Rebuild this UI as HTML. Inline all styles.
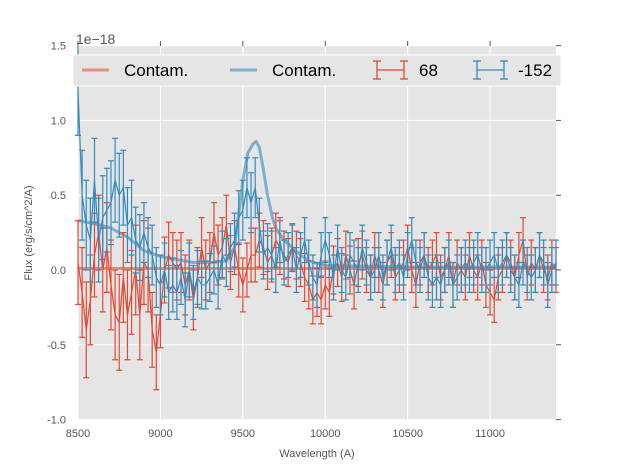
<!DOCTYPE html>
<html><head><meta charset="utf-8"><style>
body{margin:0;background:#fff;font-family:"Liberation Sans",sans-serif}
svg text{font-family:"Liberation Sans",sans-serif}
</style></head><body>
<svg id="chart" width="617" height="467" xmlns="http://www.w3.org/2000/svg">
<rect x="78" y="46" width="478" height="374" fill="#e5e5e5"/>
<g id="grid"></g>
<g id="contam"></g>
<g id="series"></g>
<g id="axes"></g>
<text x="76" y="44" font-size="14" fill="#555">1e−18</text>
<text x="317" y="457" font-size="11" fill="#555" text-anchor="middle">Wavelength (A)</text>
<text transform="translate(32,233) rotate(-90)" font-size="11" fill="#555" text-anchor="middle">Flux (erg/s/cm^2/A)</text>
<g>
<rect x="73" y="55" width="488" height="31" fill="#e5e5e5" stroke="#fff" stroke-width="1"/>
<line x1="82" y1="70" x2="109" y2="70" stroke="#e8907f" stroke-width="3"/>
<text x="124" y="76" font-size="17" fill="#000">Contam.</text>
<line x1="230" y1="70" x2="257" y2="70" stroke="#7aafd2" stroke-width="3"/>
<text x="272" y="76" font-size="17" fill="#000">Contam.</text>
<g stroke="#e24a33" stroke-width="1.3"><line x1="377" y1="70" x2="404" y2="70"/><line x1="377" y1="61" x2="377" y2="79"/><line x1="404" y1="61" x2="404" y2="79"/><line x1="373" y1="61" x2="381" y2="61"/><line x1="373" y1="79" x2="381" y2="79"/><line x1="400" y1="61" x2="408" y2="61"/><line x1="400" y1="79" x2="408" y2="79"/></g>
<text x="419" y="76" font-size="17" fill="#000">68</text>
<g stroke="#348abd" stroke-width="1.3"><line x1="477" y1="70" x2="504" y2="70"/><line x1="477" y1="61" x2="477" y2="79"/><line x1="504" y1="61" x2="504" y2="79"/><line x1="473" y1="61" x2="481" y2="61"/><line x1="473" y1="79" x2="481" y2="79"/><line x1="500" y1="61" x2="508" y2="61"/><line x1="500" y1="79" x2="508" y2="79"/></g>
<text x="518" y="76" font-size="17" fill="#000">-152</text>
</g>
</svg>
<script>
const xTicks=[8500,9000,9500,10000,10500,11000];
const yTicks=[-1.0,-0.5,0.0,0.5,1.0,1.5];
const wlStart=8500, wlStep=25;
const redFlux=[0.05,-0.15,-0.4,-0.2,0.1,0.25,0.0,0.15,-0.1,-0.3,-0.35,-0.05,-0.3,-0.15,0.0,-0.3,0.05,0.0,-0.4,-0.55,-0.3,0.0,0.1,0.05,0.0,0.05,-0.1,0.0,-0.2,-0.05,0.15,0.0,0.05,0.25,0.1,0.15,0.3,0.05,0.15,0.0,-0.1,0.0,0.1,0.1,0.2,0.15,0.05,0.1,0.2,0.15,0.1,0.05,0.15,0.1,0.05,-0.05,-0.1,-0.2,-0.15,-0.2,-0.1,-0.15,0.0,0.05,-0.05,0.1,0.0,-0.1,0.05,0.1,0.0,-0.05,0.1,0.0,-0.1,0.05,0.1,-0.05,0.0,0.05,0.15,0.0,-0.1,0.05,0.1,0.0,0.05,0.1,-0.05,0.0,0.1,-0.1,0.05,0.0,-0.05,0.1,0.0,-0.05,0.05,-0.1,-0.15,-0.2,-0.05,0.0,0.1,0.05,-0.05,0.1,0.2,-0.05,0.05,0.0,0.1,0.0,-0.05,0.05,0.0];
const redErr=[0.28,0.3,0.32,0.3,0.28,0.25,0.28,0.3,0.3,0.3,0.32,0.3,0.3,0.28,0.3,0.3,0.28,0.28,0.25,0.25,0.22,0.22,0.22,0.2,0.2,0.2,0.2,0.2,0.2,0.2,0.2,0.2,0.2,0.2,0.2,0.2,0.2,0.18,0.18,0.18,0.18,0.18,0.18,0.18,0.18,0.18,0.18,0.18,0.18,0.18,0.16,0.16,0.16,0.16,0.16,0.16,0.16,0.16,0.16,0.16,0.16,0.16,0.16,0.16,0.16,0.16,0.16,0.16,0.16,0.16,0.15,0.15,0.15,0.15,0.15,0.15,0.15,0.15,0.15,0.15,0.15,0.15,0.15,0.15,0.15,0.15,0.15,0.15,0.15,0.15,0.15,0.15,0.15,0.15,0.15,0.15,0.15,0.15,0.15,0.15,0.15,0.15,0.15,0.15,0.15,0.15,0.15,0.15,0.15,0.15,0.15,0.15,0.15,0.15,0.15,0.15,0.15];
const blueFlux=[1.2,0.5,0.3,0.2,0.6,0.2,0.35,0.4,0.45,0.6,0.5,0.55,0.3,0.35,0.2,0.15,0.25,0.15,0.1,-0.05,-0.1,0.0,-0.15,-0.1,-0.15,-0.05,-0.2,0.0,-0.15,-0.05,-0.1,-0.1,-0.05,0.0,-0.1,0.1,0.05,0.15,0.2,0.35,0.4,0.55,0.45,0.55,0.3,0.1,0.15,0.1,0.0,0.2,0.05,0.1,0.15,0.0,0.1,0.2,0.05,-0.05,-0.1,0.1,0.2,0.1,-0.05,0.15,0.0,-0.05,0.1,0.05,0.0,0.15,0.05,-0.05,0.0,0.1,-0.05,0.05,0.15,0.0,0.05,-0.05,0.1,0.2,0.05,0.0,0.1,-0.05,-0.1,-0.05,-0.1,0.0,0.05,-0.1,-0.05,0.0,0.05,0.0,0.05,0.1,0.0,0.0,0.05,0.1,0.0,0.05,0.1,0.0,-0.05,-0.1,0.05,0.0,-0.05,0.0,0.1,0.05,-0.1,0.0,0.05];
const blueErr=[0.3,0.3,0.3,0.28,0.28,0.28,0.28,0.28,0.28,0.28,0.28,0.25,0.25,0.25,0.22,0.22,0.2,0.2,0.2,0.2,0.2,0.18,0.18,0.18,0.18,0.18,0.18,0.18,0.18,0.18,0.16,0.16,0.16,0.16,0.16,0.16,0.16,0.16,0.18,0.18,0.2,0.2,0.2,0.2,0.18,0.16,0.16,0.16,0.15,0.15,0.15,0.15,0.15,0.15,0.15,0.15,0.15,0.15,0.15,0.15,0.15,0.15,0.15,0.15,0.15,0.15,0.15,0.15,0.15,0.15,0.15,0.15,0.15,0.15,0.15,0.15,0.15,0.15,0.15,0.15,0.15,0.15,0.15,0.15,0.15,0.15,0.15,0.15,0.15,0.15,0.15,0.15,0.15,0.15,0.15,0.15,0.15,0.15,0.15,0.15,0.15,0.15,0.15,0.15,0.15,0.15,0.15,0.15,0.15,0.15,0.15,0.15,0.15,0.15,0.15,0.15,0.15];
const contamWl=[8500,8600,8700,8800,8900,9000,9100,9200,9300,9400,9450,9500,9530,9560,9580,9600,9620,9650,9680,9700,9750,9800,9850,9900,10000,10500,11000,11400];
const contamBlue=[0.33,0.31,0.28,0.22,0.13,0.09,0.07,0.05,0.05,0.06,0.15,0.6,0.78,0.84,0.86,0.82,0.7,0.5,0.35,0.28,0.2,0.15,0.1,0.06,0.03,0.02,0.02,0.02];
const contamRed=[0.01,0.01,0.01,0.01];
const contamRedWl=[8500,9500,10500,11400];

const NS='http://www.w3.org/2000/svg';
const X=v=>78+(v-8500)*(478/2900);
const Y=v=>270-v*149.6;
function mk(tag,attrs,parent){const e=document.createElementNS(NS,tag);for(const k in attrs)e.setAttribute(k,attrs[k]);parent.appendChild(e);return e;}
const grid=document.getElementById('grid'),axes=document.getElementById('axes');
xTicks.forEach(t=>{
  const l=mk('line',{x1:X(t),x2:X(t),y1:46,y2:420,stroke:'#fff','stroke-width':1},grid);
  
  
  const tx=mk('text',{x:X(t),y:437,'font-size':11,fill:'#555','text-anchor':'middle'},axes);
  tx.textContent=t;
  
  
  mk('line',{x1:X(t),x2:X(t),y1:41,y2:46,stroke:'#555'},axes);
});
yTicks.forEach(t=>{
  const l=mk('line',{x1:78,x2:556,y1:Y(t),y2:Y(t),stroke:'#fff','stroke-width':1},grid);
  
  
  const tx=mk('text',{x:66,y:Y(t)+4,'font-size':11,fill:'#555','text-anchor':'end'},axes);
  tx.textContent=t.toFixed(1);
  
  
  mk('line',{x1:556,x2:561,y1:Y(t),y2:Y(t),stroke:'#555'},axes);
});
const contam=document.getElementById('contam');
const pr=mk('polyline',{points:contamRedWl.map((w,i)=>X(w)+','+Y(contamRed[i])).join(' '),fill:'none',stroke:'#e24a33','stroke-opacity':0.6,'stroke-width':3},contam);


const pb=mk('polyline',{points:contamWl.map((w,i)=>X(w)+','+Y(contamBlue[i])).join(' '),fill:'none',stroke:'#348abd','stroke-opacity':0.6,'stroke-width':3,'stroke-linejoin':'round'},contam);


const series=document.getElementById('series');
function drawSeries(flux,err,color,name){
  const g=mk('g',{stroke:color,'stroke-width':1.2,fill:'none'},series);
  
  
  const pts=[];
  flux.forEach((f,i)=>{
    const w=wlStart+i*wlStep;if(w>11400)return;
    const x=X(w);pts.push(x+','+Y(f));
    const yt=Math.max(46,Y(f+err[i])),yb=Math.min(420,Y(f-err[i]));
    mk('line',{x1:x,x2:x,y1:yt,y2:yb},g);
    if(Y(f+err[i])>=46)mk('line',{x1:x-3,x2:x+3,y1:yt,y2:yt},g);
    if(Y(f-err[i])<=420)mk('line',{x1:x-3,x2:x+3,y1:yb,y2:yb},g);
  });
  mk('polyline',{points:pts.join(' ')},g);
}
drawSeries(redFlux,redErr,'#e24a33','series-68');
drawSeries(blueFlux,blueErr,'#348abd','series-152');
</script>
</body></html>
